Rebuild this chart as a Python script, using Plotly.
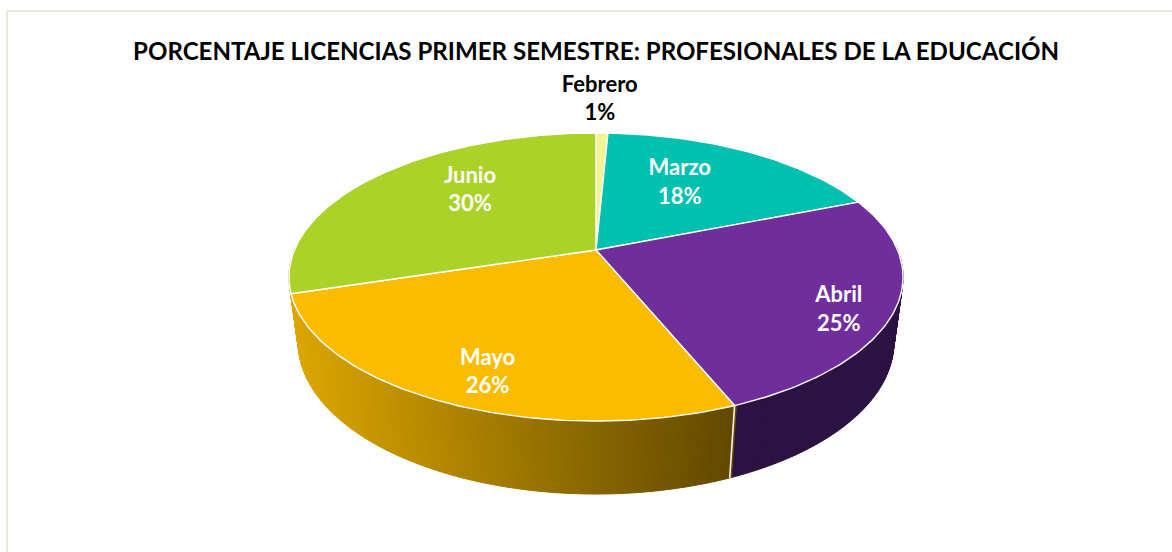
import math
import plotly.graph_objects as go

# ---- data ----
months = ["Febrero", "Marzo", "Abril", "Mayo", "Junio"]
values = [0.75, 18.25, 24.8, 26.4, 29.8]
top_colors = ["#F0F590", "#00C1B0", "#6F2E9C", "#FBBC00", "#ABD229"]
label_colors = ["#000000", "#FFFFFF", "#FFFFFF", "#FFFFFF", "#FFFFFF"]
title_text = "PORCENTAJE LICENCIAS PRIMER SEMESTRE: PROFESIONALES DE LA EDUCACIÓN"

# ---- projection of the tilted disc onto the page ----
CX, CY = 596.0, 250.0
B, A = 301.6, 139.0
K = 0.1875
M_LOW, H_LOW = 0.03, 66.6


def top(theta):
    X, Y = math.sin(theta), math.cos(theta)
    d = 1 + K * Y
    return CX + B * X / d, CY - A * Y / d


def low(theta):
    X, Y = math.sin(theta), math.cos(theta)
    d = 1 + K * Y + M_LOW
    return CX + B * X / d, CY + (H_LOW - A * Y) / d


def inner(theta, r):
    X, Y = r * math.sin(theta), r * math.cos(theta)
    d = 1 + K * Y
    return CX + B * X / d, CY - A * Y / d


total = sum(values)
cum = [0.0]
for v in values:
    cum.append(cum[-1] + v)
angle = [2 * math.pi * c / total for c in cum]


def mix(c1, c2, t):
    return "rgb(%d,%d,%d)" % tuple(round(a + (b - a) * t) for a, b in zip(c1, c2))


fig = go.Figure()


def poly(xs, ys, color, line_color=None, width=1.0):
    fig.add_trace(go.Scatter(
        x=xs, y=ys, mode="lines", fill="toself", fillcolor=color,
        line=dict(color=line_color or color, width=width),
        hoverinfo="skip", showlegend=False))


# side wall: narrow strips so Mayo can carry its horizontal gradient
N = 260
start, end = math.radians(88), math.radians(272)
GOLD_L, GOLD_R = (220, 166, 0), (98, 73, 0)
for i in range(N):
    t0 = start + (end - start) * i / N
    t1 = start + (end - start) * (i + 1) / N
    mid = (t0 + t1) / 2
    x0, y0 = top(t0)
    x1, y1 = top(t1)
    x2, y2 = low(t1)
    x3, y3 = low(t0)
    if mid < angle[3]:
        c = "#2C1242"
    else:
        tx = ((x0 + x1) / 2 - 290) / (730 - 290)
        c = mix(GOLD_L, GOLD_R, max(0, min(1, tx)))
    poly([x0, x1, x2, x3, x0], [y0, y1, y2, y3, y0], c)

# separator on the wall between Abril and Mayo
x0, y0 = top(angle[3])
x1, y1 = low(angle[3])
fig.add_trace(go.Scatter(x=[x0, x1], y=[y0, y1], mode="lines",
                         line=dict(color="#F4F2EC", width=1.6),
                         hoverinfo="skip", showlegend=False))

# top face slices
for i in range(len(values)):
    n = max(3, int(values[i] * 4))
    pts = [top(angle[i] + (angle[i + 1] - angle[i]) * j / n) for j in range(n + 1)]
    xs = [CX] + [p[0] for p in pts] + [CX]
    ys = [CY] + [p[1] for p in pts] + [CY]
    poly(xs, ys, top_colors[i], "#FFFFFF", 1.4)

# data labels, placed from each slice's mid-angle
radius = [1.27, 0.63, 0.70, 0.66, 0.63]
shift = [(-3.5, -7), (-17, -1), (38, 21), (-13, 30), (17, -10)]
for i, m in enumerate(months):
    th = (angle[i] + angle[i + 1]) / 2
    x, y = inner(th, radius[i])
    x += shift[i][0]
    y += shift[i][1]
    fig.add_trace(go.Scatter(
        x=[x], y=[y], mode="text",
        text=["%s<br>%d%%" % (m, round(values[i]))],
        textposition="middle center",
        textfont=dict(family="Lato", size=22, color=label_colors[i], weight="bold"),
        hoverinfo="skip", showlegend=False))

fig.update_layout(
    width=1172, height=552, autosize=False,
    margin=dict(l=0, r=0, t=0, b=0),
    paper_bgcolor="#FFFFFF", plot_bgcolor="#FFFFFF",
    xaxis=dict(range=[0, 1172], visible=False, fixedrange=True),
    yaxis=dict(range=[552, 0], visible=False, fixedrange=True),
    annotations=[dict(
        x=595.5, y=50, xref="x", yref="y", text="<b>%s</b>" % title_text,
        showarrow=False, font=dict(family="Lato", size=24.1, color="#000000"),
        xanchor="center", yanchor="middle")],
    shapes=[
        dict(type="line", xref="x", yref="y", x0=7, x1=7, y0=11, y1=552,
             line=dict(color="#E3EBDD", width=2)),
        dict(type="line", xref="x", yref="y", x0=6, x1=1172, y0=11, y1=11,
             line=dict(color="#E3EBDD", width=2)),
    ],
)

fig.write_html("out.html", config={"displayModeBar": False},
               post_script="document.body.style.margin='0';document.body.style.overflow='hidden';")
